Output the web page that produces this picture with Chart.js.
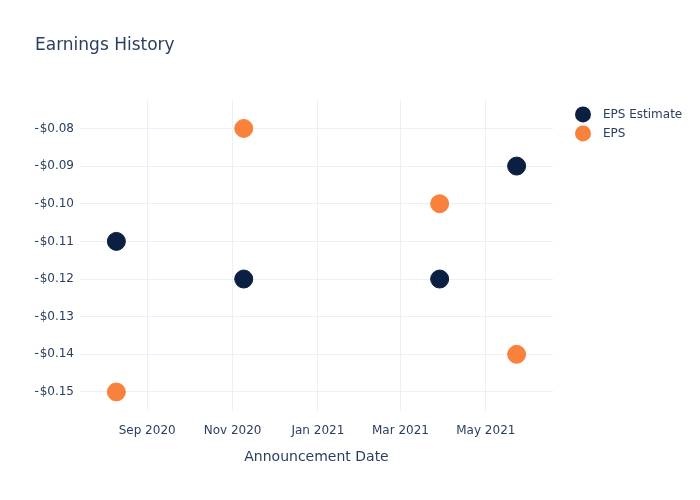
<!DOCTYPE html>
<html>
<head>
<meta charset="utf-8">
<script src="https://cdn.jsdelivr.net/npm/chart.js@4/dist/chart.umd.min.js"></script>
<style>
  body { margin: 0; background: #fff; }
  #wrap { width: 700px; height: 500px; }
</style>
</head>
<body>
<div id="wrap"><canvas id="earningsChart" width="700" height="500"></canvas></div>
<script>
// --- Data ---
const announceDates = ['2020-08-10', '2020-11-09', '2021-03-29', '2021-05-23'];
const epsEstimate = [-0.11, -0.12, -0.12, -0.09];
const epsActual = [-0.15, -0.08, -0.10, -0.14];

const xTickDates = ['2020-09-01', '2020-11-01', '2021-01-01', '2021-03-01', '2021-05-01'];
const xTickLabels = ['Sep 2020', 'Nov 2020', 'Jan 2021', 'Mar 2021', 'May 2021'];
const yTicks = [-0.15, -0.14, -0.13, -0.12, -0.11, -0.10, -0.09, -0.08];

const xMin = Date.parse('2020-07-15');
const xMax = Date.parse('2021-06-18');

const textColor = '#2a3f5f';
const gridColor = '#ebf0f8';
const fontFamily = '"DejaVu Sans", Verdana, sans-serif';

function toPoints(values) {
    return values.map(function (v, i) {
        return { x: Date.parse(announceDates[i]), y: v };
    });
}

// --- Simple legend on the right, drawn next to the plot area ---
const sideLegend = {
    id: 'sideLegend',
    afterDraw: function (chart) {
        const c = chart.ctx;
        const area = chart.chartArea;
        c.save();
        c.font = '12px ' + fontFamily;
        c.textBaseline = 'middle';
        c.textAlign = 'left';
        chart.data.datasets.forEach(function (ds, i) {
            const cy = area.top + 14 + i * 19;
            const cx = area.right + 30;
            c.beginPath();
            c.arc(cx, cy, 8, 0, Math.PI * 2);
            c.fillStyle = ds.backgroundColor;
            c.fill();
            c.fillStyle = textColor;
            c.fillText(ds.label, cx + 20, cy);
        });
        c.restore();
    }
};

const ctx = document.getElementById('earningsChart').getContext('2d');
new Chart(ctx, {
    type: 'scatter',
    data: {
        datasets: [
            { label: 'EPS Estimate', data: toPoints(epsEstimate), backgroundColor: '#0b1f41', borderColor: '#0b1f41', pointRadius: 9, pointHoverRadius: 9 },
            { label: 'EPS', data: toPoints(epsActual), backgroundColor: '#f8823b', borderColor: '#f8823b', pointRadius: 9, pointHoverRadius: 9 }
        ]
    },
    plugins: [sideLegend],
    options: {
        responsive: false,
        devicePixelRatio: 1,
        animation: false,
        layout: { padding: { left: 35, right: 147, top: 0, bottom: 30 } },
        plugins: {
            title: {
                display: true,
                text: 'Earnings History',
                align: 'start',
                color: textColor,
                font: { family: fontFamily, size: 17, weight: 'normal' },
                padding: { top: 35, bottom: 45 }
            },
            legend: { display: false },
            tooltip: { enabled: false }
        },
        scales: {
            x: {
                type: 'linear',
                min: xMin,
                max: xMax,
                afterBuildTicks: function (scale) {
                    scale.ticks = xTickDates.map(function (d) { return { value: Date.parse(d) }; });
                },
                afterFit: function (scale) { scale.height = 59; },
                ticks: {
                    color: textColor,
                    font: { family: fontFamily, size: 12 },
                    maxRotation: 0,
                    padding: 13,
                    callback: function (value, index) { return xTickLabels[index]; }
                },
                grid: { color: gridColor, drawTicks: false },
                border: { display: false },
                title: {
                    display: true,
                    text: 'Announcement Date',
                    color: textColor,
                    font: { family: fontFamily, size: 14 },
                    padding: { top: 1 }
                }
            },
            y: {
                min: -0.15506,
                max: -0.07255,
                afterBuildTicks: function (scale) {
                    scale.ticks = yTicks.map(function (v) { return { value: v }; });
                },
                afterFit: function (scale) { scale.width = 45; },
                ticks: {
                    color: textColor,
                    font: { family: fontFamily, size: 12 },
                    padding: 6,
                    callback: function (value) { return '\u2212$' + Math.abs(value).toFixed(2); }
                },
                grid: { color: gridColor, drawTicks: false },
                border: { display: false }
            }
        }
    }
});
</script>
</body>
</html>
